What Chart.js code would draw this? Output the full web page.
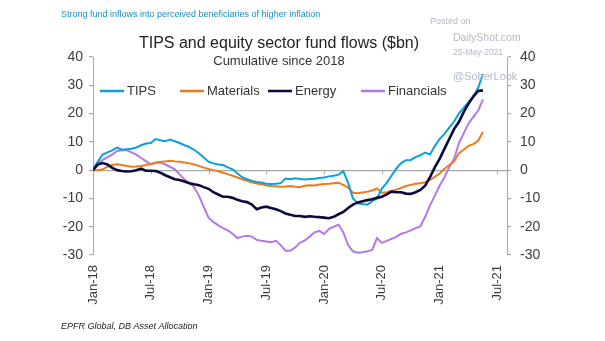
<!DOCTYPE html>
<html>
<head>
<meta charset="utf-8">
<script src="https://cdn.jsdelivr.net/npm/chart.js@4.4.1/dist/chart.umd.min.js"></script>
<style>
  html, body { margin: 0; padding: 0; background: #fff; }
  canvas { display: block; }
</style>
</head>
<body>
<canvas id="flows" width="605" height="341"></canvas>
<script>
// Half-month steps, counted in months since Jan 2018
const months = [
  0, 0.5, 1, 1.5, 2, 2.5, 3, 3.5, 4, 4.5, 5, 5.5, 6, 6.5, 7, 7.5, 8, 8.5, 9, 9.5,
  10, 10.5, 11, 11.5, 12, 12.5, 13, 13.5, 14, 14.5, 15, 15.5, 16, 16.5, 17, 17.5, 18, 18.5, 19, 19.5,
  20, 20.5, 21, 21.5, 22, 22.5, 23, 23.5, 24, 24.5, 25, 25.5, 26, 26.5, 27, 27.5, 28, 28.5, 29, 29.5,
  30, 30.5, 31, 31.5, 32, 32.5, 33, 33.5, 34, 34.5, 35, 35.5, 36, 36.5, 37, 37.5, 38, 38.5, 39, 39.5,
  40, 40.5
];

const tickMonths = [0, 6, 12, 18, 24, 30, 36, 42];
const tickLabels = ['Jan-18', 'Jul-18', 'Jan-19', 'Jul-19', 'Jan-20', 'Jul-20', 'Jan-21', 'Jul-21'];
const seriesNames = ['TIPS', 'Materials', 'Energy', 'Financials'];

// cumulative flows, $bn
const tips = [
  0.5, 3, 5.5, 6.3, 7, 8, 7.2, 7.4, 7.6, 8,
  8.8, 9.4, 9.6, 11, 10.6, 10.2, 10.8, 10.2, 9.6, 8.8,
  8.2, 7.2, 6, 4.5, 3, 2.4, 2, 1.8, 1, 0.3,
  -1.2, -2.5, -3.2, -3.8, -4.2, -4.4, -4.8, -4.9, -4.8, -4.6,
  -3, -3.2, -2.9, -3.1, -3.3, -3.1, -3, -2.8, -2.6, -2.2,
  -2, -1.6, -0.4, -4.5, -10, -11.7, -12, -12.2, -11, -10,
  -6.5, -4.5, -2, 0.5, 2.5, 3.5, 3.6, 4.6, 5.3, 6.2,
  5.5, 8.5, 11, 12.8, 15, 17.2, 20, 22, 24, 26,
  29, 34
];
const materials = [
  0, 0, 0.2, 1.2, 1.8, 2.1, 1.8, 1.5, 1.2, 1.3,
  1.5, 1.8, 2.2, 2.6, 2.9, 3.1, 3.3, 3.1, 3, 2.7,
  2.4, 2, 1.5, 0.9, 0.4, 0, -0.4, -0.9, -1.4, -2,
  -2.6, -3.2, -3.8, -4.3, -4.7, -5, -5.4, -5.6, -5.7, -5.9,
  -5.8, -5.6, -5.9, -6, -5.5, -5.3, -5.4, -5.1, -4.9, -4.8,
  -4.6, -4.5, -5.2, -6.2, -8, -8.2, -7.9, -7.6, -7.2, -6.5,
  -8, -7.8, -7.4, -6.9, -6.3, -5.6, -5.2, -4.8, -4.6, -4.3,
  -3.4, -2.4, -1.2, 0.5, 1.8, 3, 6, 7.2, 8.6, 9.2,
  10.4, 13.5
];
const energy = [
  0, 2, 2.5, 2, 0.8, 0, -0.3, -0.5, -0.4, 0,
  0.5, -0.2, -0.2, -0.3, -0.9, -1.8, -2.5, -3.2, -3.5, -4,
  -4.6, -5, -5.3, -6, -6.6, -7.8, -8.6, -9.4, -9.4, -9.8,
  -10.5, -11, -11.3, -12.2, -13.8, -13.2, -12.9, -13.4, -13.8, -14.5,
  -15.3, -15.8, -16.2, -16.2, -16.5, -16.3, -16.5, -16.6, -16.8, -17,
  -16.5, -15.6, -14.8, -13.4, -12.2, -11.4, -11, -10.6, -10.3, -9.8,
  -9.4, -8.6, -7.6, -7.8, -7.8, -8.3, -8.4, -7.8, -7, -5.5,
  -2.5, 1, 4, 7.5, 11, 14.5, 17, 20.5, 23.5, 26,
  28, 28.2
];
const financials = [
  0, 2.2, 3.6, 4.5, 5.5, 6.8, 7, 7, 6.3, 5.5,
  4.3, 3.2, 2, 2.6, 2.8, 2, 1.2, 0.3, -1.5, -3.3,
  -4.5, -6, -9, -13, -16.8, -18.3, -19.5, -20.5, -21.3, -22.5,
  -24, -23.5, -23.2, -23.5, -24.6, -25, -25.2, -25.5, -25, -26.5,
  -28.5, -28.5, -27.3, -25.7, -24.8, -23.5, -22, -21.5, -22.6, -20.8,
  -20, -19.3, -22, -26.5, -28.7, -29.2, -29, -28.7, -28.2, -24,
  -25.7, -25, -24.3, -23.6, -22.5, -22, -21.3, -20.5, -19.9, -16.5,
  -12.5, -9, -5.5, -2.5, 1, 4, 9.5, 13, 16.5, 18.8,
  21, 25
];

const FONT = "'Liberation Sans', Arial, sans-serif";
const AXIS_GREY = '#a9a9a9';
const LABEL_GREY = '#3c3c3c';

function pairs(values) {
  return values.map((v, i) => ({ x: months[i], y: v }));
}

// titles, legend, source line and watermark drawn straight onto the canvas
const overlayPlugin = {
  id: 'overlay',
  beforeDraw(chart) {
    const ctx = chart.ctx;
    ctx.save();
    ctx.fillStyle = '#fff';
    ctx.fillRect(0, 0, chart.width, chart.height);
    ctx.restore();
  },
  beforeDatasetsDraw(chart) {
    // short x ticks hanging off the zero line
    const ctx = chart.ctx;
    const x = chart.scales.x;
    const y0 = chart.scales.y.getPixelForValue(0);
    ctx.save();
    ctx.strokeStyle = AXIS_GREY;
    ctx.lineWidth = 1;
    tickMonths.forEach(m => {
      const px = Math.round(x.getPixelForValue(m)) + 0.5;
      ctx.beginPath();
      ctx.moveTo(px, y0);
      ctx.lineTo(px, y0 + 4);
      ctx.stroke();
    });
    ctx.restore();
  },
  afterDraw(chart) {
    const ctx = chart.ctx;
    ctx.save();
    ctx.textBaseline = 'middle';

    ctx.fillStyle = '#1b8ec4';
    ctx.font = '9px ' + FONT;
    ctx.textAlign = 'left';
    ctx.fillText('Strong fund inflows into perceived beneficiaries of higher inflation', 61, 15);

    ctx.fillStyle = '#222';
    ctx.textAlign = 'center';
    ctx.font = '16px ' + FONT;
    ctx.fillText('TIPS and equity sector fund flows ($bn)', 279, 44);
    ctx.font = '13px ' + FONT;
    ctx.fillStyle = '#333';
    ctx.fillText('Cumulative since 2018', 279, 61);

    // legend
    const legendX = [100, 180, 268, 361];
    ctx.font = '13px ' + FONT;
    ctx.textAlign = 'left';
    chart.data.datasets.forEach((ds, i) => {
      const lx = legendX[i];
      ctx.strokeStyle = ds.borderColor;
      ctx.lineWidth = 2.5;
      ctx.beginPath();
      ctx.moveTo(lx, 91);
      ctx.lineTo(lx + 24, 91);
      ctx.stroke();
      ctx.fillStyle = '#333';
      ctx.fillText(ds.label, lx + 27, 91);
    });

    // watermark
    ctx.fillStyle = '#b4b9c8';
    ctx.font = '9px ' + FONT;
    ctx.fillText('Posted on', 430, 22);
    ctx.font = '10.5px ' + FONT;
    ctx.fillText('DailyShot.com', 453, 38);
    ctx.font = '8.5px ' + FONT;
    ctx.fillText('25-May-2021', 453, 53);
    ctx.font = '11px ' + FONT;
    ctx.fillText('@SoberLook', 453, 77);

    ctx.fillStyle = '#222';
    ctx.font = 'italic 9px ' + FONT;
    ctx.fillText('EPFR Global, DB Asset Allocation', 61, 326);
    ctx.restore();
  }
};

function yAxis(position, width, pad) {
  return {
    type: 'linear',
    position: position,
    min: -30,
    max: 40,
    afterFit: s => { s.width = width; },
    border: { display: true, color: AXIS_GREY, width: 1 },
    grid: {
      drawOnChartArea: position === 'left',
      color: c => (c.tick && c.tick.value === 0 ? AXIS_GREY : 'rgba(0,0,0,0)'),
      lineWidth: 1.2,
      tickLength: 4,
      tickColor: AXIS_GREY
    },
    ticks: {
      stepSize: 10,
      padding: pad,
      color: LABEL_GREY,
      font: { family: FONT, size: 14 }
    }
  };
}

const colours = ['#0d9fd9', '#ee7a1c', '#0b0a3a', '#b07ae6'];
const lineWidths = [2, 2, 2.6, 2];
const drawOrder = [2, 3, 1, 4];
const values = [tips, materials, energy, financials];

new Chart(document.getElementById('flows'), {
  type: 'line',
  data: {
    datasets: values.map((v, i) => ({
      label: seriesNames[i],
      data: pairs(v),
      borderColor: colours[i],
      backgroundColor: colours[i],
      borderWidth: lineWidths[i],
      pointRadius: 0,
      tension: 0,
      order: drawOrder[i]
    }))
  },
  options: {
    responsive: false,
    animation: false,
    devicePixelRatio: 1,
    layout: { padding: { top: 57, left: 0, right: 0, bottom: 0 } },
    plugins: {
      legend: { display: false },
      title: { display: false },
      tooltip: { enabled: false }
    },
    scales: {
      x: {
        type: 'linear',
        min: 0,
        max: 43,
        afterFit: s => { s.height = 86; },
        afterBuildTicks: s => { s.ticks = tickMonths.map(m => ({ value: m })); },
        border: { display: false },
        grid: { display: false, drawTicks: false },
        ticks: {
          autoSkip: false,
          maxRotation: 90,
          minRotation: 90,
          padding: 10,
          color: LABEL_GREY,
          font: { family: FONT, size: 13 },
          callback: v => tickLabels[tickMonths.indexOf(v)]
        }
      },
      y: yAxis('left', 93, 6),
      y2: yAxis('right', 98, 9)
    }
  },
  plugins: [overlayPlugin]
});
</script>
</body>
</html>
